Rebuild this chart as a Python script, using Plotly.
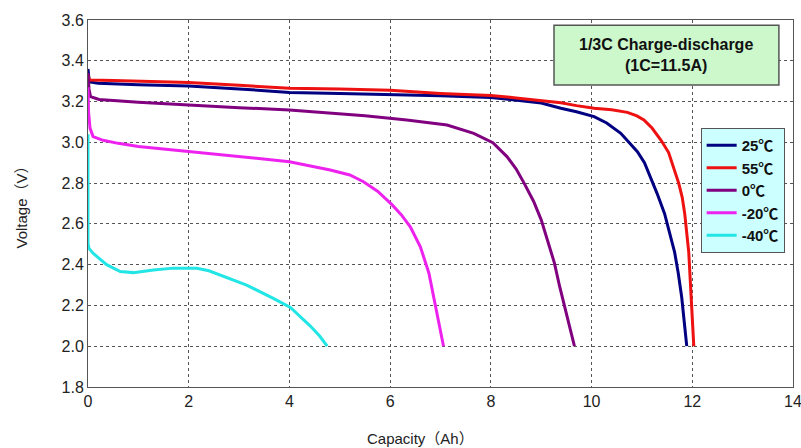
import plotly.graph_objects as go

# ---- data ----
names = ["25℃", "55℃", "0℃", "-20℃", "-40℃"]
colors = ["#000080", "#EE1111", "#800080", "#EE22EE", "#22E5E5"]

cap_25 = [0, 0.02, 0.06, 0.2, 1, 2, 3, 4, 5, 6, 7, 8, 8.5, 9, 9.39, 9.7, 10.05, 10.3, 10.58,
          10.75, 10.91, 11.05, 11.17, 11.3, 11.45, 11.55, 11.65, 11.72, 11.79, 11.84, 11.89]
v_25 = [3.36, 3.31, 3.295, 3.29, 3.283, 3.276, 3.262, 3.245, 3.24, 3.235, 3.228, 3.22, 3.208, 3.193, 3.167,
        3.15, 3.126, 3.095, 3.044, 3.0, 2.954, 2.9, 2.83, 2.75, 2.65, 2.56, 2.46, 2.36, 2.24, 2.12, 2.0]

cap_55 = [0, 0.03, 0.5, 2, 3, 4, 5, 6, 7, 8, 8.5, 9, 9.39, 9.7, 10.05, 10.4, 10.71, 10.9, 11.04,
          11.2, 11.38, 11.53, 11.64, 11.73, 11.8, 11.85, 11.93, 11.98, 12.03]
v_55 = [3.33, 3.306, 3.303, 3.293, 3.28, 3.265, 3.262, 3.255, 3.24, 3.23, 3.218, 3.205, 3.194, 3.18, 3.167,
        3.16, 3.147, 3.13, 3.11, 3.07, 3.01, 2.95, 2.865, 2.8, 2.73, 2.65, 2.46, 2.24, 2.0]

cap_0 = [0, 0.02, 0.05, 0.22, 1, 2, 3, 4, 4.9, 5.5, 6.33, 7.13, 7.66, 8.04, 8.32, 8.5, 8.66, 8.85,
         9.0, 9.13, 9.26, 9.36, 9.46, 9.56, 9.66]
v_0 = [3.34, 3.26, 3.224, 3.21, 3.197, 3.183, 3.17, 3.159, 3.142, 3.13, 3.11, 3.085, 3.044, 2.998, 2.93,
       2.87, 2.80, 2.71, 2.62, 2.52, 2.41, 2.30, 2.194, 2.1, 2.0]

cap_m20 = [0, 0.01, 0.04, 0.1, 0.3, 0.6, 1, 2, 3, 4, 4.81, 5.2, 5.47, 5.75, 6.04, 6.22, 6.4, 6.6,
           6.77, 6.9, 7.0, 7.06]
v_m20 = [3.27, 3.15, 3.07, 3.028, 3.01, 2.995, 2.98, 2.954, 2.93, 2.905, 2.864, 2.84, 2.807, 2.76, 2.693,
         2.645, 2.586, 2.488, 2.358, 2.194, 2.08, 2.0]

cap_m40 = [0, 0, 0.02, 0.1, 0.37, 0.64, 0.9, 1.3, 1.7, 2.16, 2.4, 2.62, 3.15, 3.68, 4.02, 4.41, 4.6, 4.75]
v_m40 = [3.04, 2.505, 2.48, 2.456, 2.40, 2.366, 2.361, 2.374, 2.383, 2.382, 2.37, 2.35, 2.30, 2.235, 2.19,
         2.10, 2.05, 2.0]

caps = [cap_25, cap_55, cap_0, cap_m20, cap_m40]
volts = [v_25, v_55, v_0, v_m20, v_m40]

x_ticks = [0, 2, 4, 6, 8, 10, 12, 14]
y_ticks = [1.8, 2.0, 2.2, 2.4, 2.6, 2.8, 3.0, 3.2, 3.4, 3.6]
y_tick_labels = ["1.8", "2.0", "2.2", "2.4", "2.6", "2.8", "3.0", "3.2", "3.4", "3.6"]

box_text = "1/3C Charge-discharge<br>(1C=11.5A)"
x_title = "Capacity（Ah）"
y_title = "Voltage（V）"

fig = go.Figure()
for n, c, x, y in zip(names, colors, caps, volts):
    fig.add_trace(go.Scatter(x=x, y=y, mode="lines", name=n,
                             line=dict(color=c, width=3)))

font_family = "Liberation Sans, Arial, Noto Sans CJK SC, sans-serif"

fig.update_layout(
    width=801, height=448,
    margin=dict(l=88, r=8, t=20, b=61),
    paper_bgcolor="white", plot_bgcolor="white",
    font=dict(family=font_family, color="#222222"),
    legend=dict(x=0.869, y=0.706, xanchor="left", yanchor="top",
                bgcolor="#CCFFFF", bordercolor="#555555", borderwidth=1,
                font=dict(size=15, family=font_family, color="#111111", weight="bold"),
                itemwidth=30, tracegroupgap=0),
    showlegend=True,
)

fig.update_xaxes(range=[0, 14], tickvals=x_ticks, ticktext=[str(v) for v in x_ticks],
                 showline=True, linecolor="#555555", linewidth=1, mirror=True,
                 showgrid=True, gridcolor="#555555", griddash="dot", gridwidth=1,
                 zeroline=False, ticks="", tickfont=dict(size=16), automargin=False,
                 ticklabeloverflow="allow")
fig.update_yaxes(range=[1.8, 3.6], tickvals=y_ticks, ticktext=y_tick_labels,
                 showline=True, linecolor="#555555", linewidth=1, mirror=True,
                 showgrid=True, gridcolor="#555555", griddash="dot", gridwidth=1,
                 zeroline=False, ticks="", tickfont=dict(size=16), automargin=False,
                 title=dict(text=y_title, font=dict(size=15), standoff=30))

fig.add_annotation(xref="paper", yref="paper", x=0.471, y=-0.139,
                   xanchor="center", yanchor="middle", showarrow=False,
                   text=x_title, font=dict(size=15, color="#222222", family=font_family))

fig.add_shape(type="rect", xref="paper", yref="paper",
              x0=0.661, x1=0.980, y0=0.823, y1=0.986,
              fillcolor="#CCF8CC", line=dict(color="#555555", width=1.5))
fig.add_annotation(xref="paper", yref="paper", x=0.8205, y=0.9045,
                   xanchor="center", yanchor="middle",
                   text=box_text, showarrow=False,
                   font=dict(size=16, color="#111111", family=font_family, weight="bold"),
                   align="center")

fig.write_html("out.html", config={"displayModeBar": False},
               post_script="document.body.style.margin='0';")
